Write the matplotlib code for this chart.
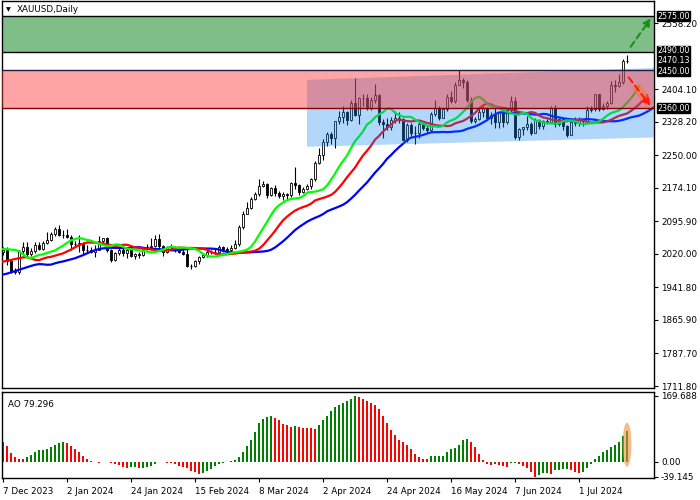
import numpy as np
import matplotlib.pyplot as plt
from matplotlib.patches import Polygon, Rectangle, Ellipse

plt.rcParams['font.family'] = ['DejaVu Sans']
FS = 6.3

# XAUUSD daily bars, 7 Dec 2023 .. 17 Jul 2024
opens = [2025, 2028, 2004, 1981, 1979, 2027, 2036, 2019, 2027, 2040, 2031, 2045, 2053, 2067, 2077, 2065,
         2063, 2059, 2042, 2043, 2045, 2028, 2030, 2024, 2029, 2049, 2056, 2028, 2006, 2023, 2029, 2021,
         2029, 2014, 2020, 2018, 2032, 2037, 2039, 2054, 2039, 2025, 2035, 2035, 2034, 2024, 2020, 1992,
         1992, 2004, 2013, 2017, 2024, 2025, 2024, 2035, 2031, 2030, 2034, 2044, 2083, 2114, 2128, 2148,
         2160, 2179, 2182, 2158, 2174, 2162, 2155, 2160, 2157, 2186, 2181, 2165, 2172, 2178, 2195, 2233,
         2251, 2280, 2300, 2290, 2330, 2339, 2352, 2333, 2372, 2344, 2383, 2383, 2361, 2379, 2391, 2327,
         2322, 2316, 2332, 2337, 2335, 2286, 2320, 2303, 2301, 2323, 2314, 2309, 2346, 2360, 2336, 2358,
         2386, 2376, 2415, 2425, 2421, 2379, 2329, 2334, 2351, 2360, 2338, 2343, 2327, 2350, 2327, 2355,
         2376, 2293, 2311, 2316, 2324, 2303, 2333, 2319, 2329, 2328, 2360, 2322, 2334, 2319, 2298, 2327,
         2326, 2332, 2330, 2356, 2357, 2392, 2359, 2364, 2371, 2414, 2411, 2422, 2469]
highs = [2035, 2035, 2007, 1988, 2029, 2048, 2047, 2033, 2047, 2047, 2049, 2071, 2070, 2083, 2088, 2075,
         2078, 2065, 2050, 2064, 2047, 2040, 2037, 2040, 2062, 2058, 2060, 2031, 2025, 2035, 2033, 2034,
         2036, 2023, 2025, 2037, 2042, 2056, 2065, 2066, 2041, 2039, 2044, 2039, 2037, 2031, 2033, 1996,
         2006, 2015, 2021, 2031, 2030, 2034, 2041, 2038, 2037, 2041, 2052, 2088, 2119, 2141, 2152, 2165,
         2195, 2189, 2185, 2175, 2180, 2167, 2164, 2163, 2188, 2223, 2183, 2176, 2184, 2196, 2236, 2266,
         2288, 2305, 2305, 2330, 2354, 2365, 2354, 2378, 2431, 2385, 2392, 2393, 2385, 2417, 2392, 2334,
         2336, 2339, 2353, 2352, 2336, 2326, 2326, 2319, 2330, 2327, 2320, 2350, 2378, 2365, 2361, 2392,
         2400, 2422, 2450, 2431, 2426, 2385, 2340, 2358, 2364, 2363, 2350, 2360, 2354, 2354, 2359, 2388,
         2387, 2313, 2317, 2342, 2327, 2336, 2334, 2332, 2335, 2365, 2368, 2337, 2336, 2321, 2332, 2339,
         2339, 2335, 2365, 2364, 2393, 2393, 2372, 2376, 2424, 2425, 2440, 2474, 2483]
lows = [2017, 1995, 1976, 1973, 1973, 2018, 2016, 2016, 2022, 2030, 2028, 2044, 2051, 2062, 2061, 2058,
        2057, 2030, 2035, 2024, 2017, 2022, 2021, 2013, 2028, 2046, 2024, 2002, 2004, 2017, 2016, 2011,
        2012, 2009, 2010, 2016, 2030, 2030, 2037, 2032, 2015, 2022, 2031, 2024, 2022, 2017, 1990, 1984,
        1990, 1997, 2011, 2013, 2020, 2020, 2022, 2025, 2026, 2025, 2031, 2039, 2078, 2112, 2125, 2146,
        2154, 2176, 2150, 2155, 2156, 2150, 2146, 2146, 2152, 2172, 2157, 2163, 2168, 2172, 2191, 2229,
        2240, 2271, 2276, 2268, 2323, 2326, 2320, 2331, 2342, 2324, 2365, 2355, 2356, 2372, 2320, 2291,
        2310, 2308, 2326, 2325, 2285, 2281, 2296, 2277, 2291, 2309, 2303, 2306, 2341, 2333, 2336, 2353,
        2373, 2373, 2413, 2406, 2374, 2326, 2325, 2333, 2340, 2334, 2322, 2313, 2314, 2316, 2323, 2351,
        2287, 2286, 2298, 2308, 2298, 2302, 2311, 2311, 2324, 2327, 2316, 2318, 2309, 2293, 2297, 2318,
        2318, 2319, 2325, 2351, 2353, 2353, 2355, 2359, 2369, 2397, 2410, 2417, 2465]
closes = [2028, 2004, 1981, 1979, 2027, 2036, 2019, 2027, 2040, 2031, 2045, 2053, 2067, 2077, 2065, 2063,
          2059, 2042, 2043, 2045, 2028, 2030, 2024, 2029, 2049, 2056, 2028, 2006, 2023, 2029, 2021, 2029,
          2014, 2020, 2018, 2032, 2037, 2039, 2054, 2039, 2025, 2035, 2035, 2034, 2024, 2020, 1992, 1992,
          2004, 2013, 2017, 2024, 2025, 2024, 2035, 2031, 2030, 2034, 2044, 2083, 2114, 2128, 2148, 2160,
          2179, 2182, 2158, 2174, 2162, 2155, 2160, 2157, 2186, 2181, 2165, 2172, 2178, 2195, 2233, 2251,
          2280, 2300, 2290, 2330, 2339, 2352, 2333, 2372, 2344, 2383, 2383, 2361, 2379, 2391, 2327, 2322,
          2316, 2332, 2337, 2335, 2286, 2320, 2303, 2301, 2323, 2314, 2309, 2346, 2360, 2336, 2358, 2386,
          2376, 2415, 2425, 2421, 2379, 2329, 2334, 2351, 2360, 2338, 2343, 2327, 2350, 2327, 2355, 2376,
          2293, 2311, 2316, 2324, 2303, 2333, 2319, 2329, 2328, 2360, 2322, 2334, 2319, 2298, 2327, 2326,
          2332, 2330, 2356, 2357, 2392, 2359, 2364, 2371, 2414, 2411, 2422, 2469, 2470.13]

# Awesome Oscillator values
ao = [51, 40, 23, 13, 8, 7,
      11, 18, 26, 30, 30.5, 32.5, 38, 43, 49, 50.5,
      49, 40, 32, 26, 15, 7, 2, -2, -4,
      -2, -1,
      -3, -6, -9, -14.5, -15.5,
      -14.5, -13.5,
      -15.5,
      -15, -14, -11, -6, -2, -1,
      -2.5, -4, -7, -11, -13, -16, -23, -27, -32,
      -28, -24, -19, -11, -6, -2.5, -1, 2, 3.5, 11, 26, 40, 57, 77, 100, 111, 114, 117,
      113, 107, 98, 94, 90,
      91.5,
      88, 87, 86.5, 85.5, 85,
      94, 107, 118, 130, 141, 147, 151, 157, 161, 169.688,
      167, 161, 157, 152, 146, 134.5, 117, 100, 81, 68.5, 55.7, 51.4, 43, 32, 20, 13, 8, 6,
      14.5, 14.6, 14.7, 14.8, 25, 32, 34, 43, 56, 58,
      51, 38.5, 21, 4, -6, -8.5,
      -7,
      -8.5, -11, -13,
      -4, -2.5,
      -7, -11, -16, -26, -39.145,
      -33, -30, -28,
      -31,
      -21, -20.5, -20, -19.5,
      -21.5, -25.7, -28,
      -26.5, -17, -6, 7, 14.5, 25.7, 30, 38.6, 43, 51.4, 66, 79.296]

# Alligator: values shown left of the first computed point
jaw_head = [1972, 1974, 1977, 1980, 1983, 1986, 1989, 1992]
teeth_head = [2002, 2004, 2006, 2008, 2010]
lips_head = [2031, 2031, 2030]

date_labels = ['7 Dec 2023', '2 Jan 2024', '24 Jan 2024', '15 Feb 2024', '8 Mar 2024',
               '2 Apr 2024', '24 Apr 2024', '16 May 2024', '7 Jun 2024', '1 Jul 2024']
date_idx = [0, 16, 32, 48, 64, 80, 96, 112, 128, 144]

price_ticks = [2558.20, 2404.10, 2328.20, 2250.00, 2174.10, 2095.90,
               2020.00, 1941.80, 1865.90, 1787.70, 1711.80]
levels = [2575.00, 2490.00, 2450.00, 2360.00]
level_colors = ['black', 'black', '#1c1c3c', '#800000']
channel = [(76, 2426), (163.5, 2454), (163.5, 2292), (76, 2270)]

n = len(closes)
x = np.arange(n)
o = np.array(opens, float)
h = np.array(highs, float)
l = np.array(lows, float)
c = np.array(closes, float)
med = (h + l) / 2


def smma(values, period, seed):
    out = []
    s = seed
    for v in values:
        s = (s * (period - 1) + v) / period
        out.append(s)
    return out


fig = plt.figure(figsize=(7, 5), dpi=100)
W, H = 700, 500
ax = fig.add_axes([2 / W, (H - 388) / H, 652 / W, 387 / H])
ax2 = fig.add_axes([2 / W, (H - 478.3) / H, 652 / W, 86.6 / H])

for a in (ax, ax2):
    a.set_xlim(-0.25, 162.75)
    for s in a.spines.values():
        s.set_color('black')
        s.set_linewidth(1)

ax.set_ylim(1707.2, 2610.1)

# green target zone
ax.add_patch(Rectangle((-5, 2490), 200, 85, facecolor='#7fbf87', edgecolor='none', zorder=1))

# candles
up = c >= o
ax.vlines(x, l, h, color='black', lw=0.8, zorder=2)
body_lo = np.minimum(o, c)
body_h = np.maximum(np.abs(c - o), 0.8)
ax.bar(x, body_h, bottom=body_lo, width=0.62,
       color=np.where(up, 'white', 'black'), edgecolor='black', linewidth=0.6, zorder=2.1)

# alligator
jaw = jaw_head + smma(med, 13, jaw_head[-1])
teeth = teeth_head + smma(med, 8, teeth_head[-1])
lips = lips_head + smma(med, 5, lips_head[-1])
ax.plot(np.arange(len(jaw)), jaw, color='#0000ff', lw=1.6, zorder=3)
ax.plot(np.arange(len(teeth)), teeth, color='#ff0000', lw=1.6, zorder=3)
ax.plot(np.arange(len(lips)), lips, color='#00ff00', lw=1.6, zorder=3)

# channel and resistance zone (translucent overlays)
ax.add_patch(Polygon(channel, closed=True, facecolor=(20 / 255, 135 / 255, 245 / 255),
                     alpha=0.33, edgecolor='none', zorder=4))
ax.add_patch(Rectangle((-5, 2360), 200, 90, facecolor=(1, 53 / 255, 53 / 255),
                       alpha=0.45, edgecolor='none', zorder=5))

for lv, col in zip(levels, level_colors):
    ax.axhline(lv, color=col, lw=1, zorder=6)

# forecast arrows
ax.annotate('', xy=(162.4, 2575), xytext=(156.5, 2498),
            arrowprops=dict(arrowstyle='-|>', linestyle=(0, (3, 2)), color='#1e8c1e',
                            lw=1.5, mutation_scale=11), zorder=7)
ax.plot([158, 161.6], [2414, 2368], color=(1, 0.47, 0.16), alpha=0.55, lw=6,
        solid_capstyle='butt', zorder=6.5)
ax.annotate('', xy=(162.3, 2360), xytext=(156, 2437),
            arrowprops=dict(arrowstyle='-|>', linestyle=(0, (3, 2)), color='#ff1a1a',
                            lw=1.5, mutation_scale=11), zorder=7)

# right price axis
ax.yaxis.tick_right()
ax.set_yticks(price_ticks)
ax.set_yticklabels(['%.2f' % t for t in price_ticks])
ax.tick_params(axis='y', direction='out', length=3, width=0.8, pad=2, labelsize=FS, colors='black')
ax.set_xticks([])

box_labels = [2575.00, 2490.00, 2470.13, 2450.00, 2360.00]
box_nudge = [0, 1, 0, -1, 0]
for lv, dy in zip(box_labels, box_nudge):
    ax.annotate('%.2f' % lv, xy=(1, lv), xycoords=('axes fraction', 'data'),
                xytext=(2.5, dy * 1.1), textcoords='offset points', va='center', ha='left',
                fontsize=5.7, color='white', annotation_clip=False,
                bbox=dict(boxstyle='square,pad=0.03', fc='black', ec='black'), zorder=10)

fig.text(6 / W, 1 - 10 / H, '\u25bc', fontsize=4.5, va='center', ha='left')
fig.text(17 / W, 1 - 10 / H, 'XAUUSD,Daily', fontsize=FS, va='center', ha='left')

# AO panel
aov = np.array(ao)
cols = ['#ff0000'] + ['#008000' if aov[i] > aov[i - 1] else '#ff0000' for i in range(1, n)]
ax2.bar(x, aov, width=0.72, color=cols, zorder=2)
ax2.set_ylim(-42.7, 180)
ax2.add_patch(Ellipse((n - 1, aov[-1] * 0.55), 2.2, aov[-1] * 1.43,
                      facecolor=(0.95, 0.55, 0.25), alpha=0.6, edgecolor='none', zorder=3))
ax2.text(6 / 652, 0.85, 'AO %.3f' % ao[-1], transform=ax2.transAxes, fontsize=FS,
         va='center', ha='left')
ax2.yaxis.tick_right()
ax2.set_yticks([169.688, 0, -39.145])
ax2.set_yticklabels(['169.688', '0.00', '-39.145'])
ax2.tick_params(axis='y', direction='out', length=3, width=0.8, pad=2, labelsize=FS)
ax2.set_xticks(date_idx)
ax2.set_xticklabels(date_labels, ha='left')
ax2.tick_params(axis='x', direction='out', length=3, width=0.8, pad=3, labelsize=FS)

fig.savefig('out.png', dpi=100)
